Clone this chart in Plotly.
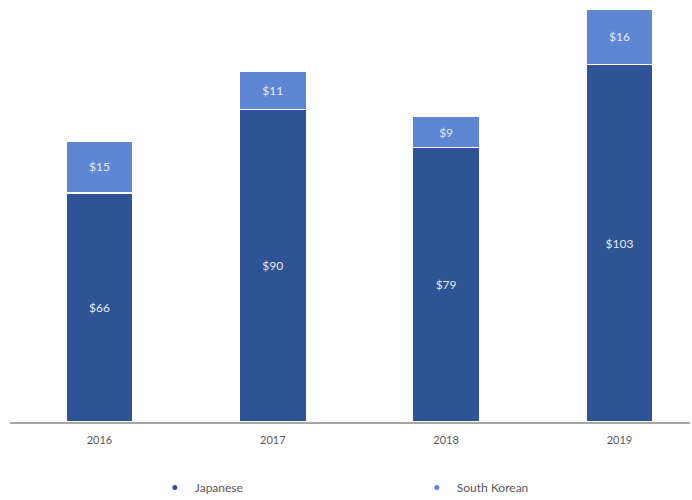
import plotly.graph_objects as go

years = ["2016", "2017", "2018", "2019"]
japanese = [66, 90, 79, 103]
south_korean = [15, 11, 9, 16]

dark_blue = "#2E5496"
light_blue = "#5E86D2"
font_family = "Lato, Roboto, sans-serif"

fig = go.Figure()

for name, vals, color in [("Japanese", japanese, dark_blue),
                          ("South Korean", south_korean, light_blue)]:
    fig.add_trace(go.Bar(
        x=years, y=vals, name=name,
        marker=dict(color=color, line=dict(color="white", width=1.2)),
        text=[f"${v}" for v in vals],
        textposition="inside", insidetextanchor="middle",
        textfont=dict(color="#E4E9F2", size=12, family=font_family),
        showlegend=False,
    ))
    # legend entry drawn as a small dot
    fig.add_trace(go.Scatter(
        x=[None], y=[None], mode="markers", name=name,
        marker=dict(color=color, size=5, symbol="circle"),
        showlegend=True,
    ))

fig.update_layout(
    barmode="stack",
    bargap=0.613,
    width=692, height=500,
    margin=dict(l=10, r=2, t=0, b=78, autoexpand=False),
    plot_bgcolor="white", paper_bgcolor="white",
    font=dict(family=font_family, color="#595959", size=11),
    xaxis=dict(
        type="category",
        range=[-0.516, 3.407],
        showline=True, linecolor="#A6A6A6", linewidth=1.5,
        ticks="", showgrid=False, zeroline=False,
        ticklabelstandoff=7,
        tickfont=dict(size=11, color="#595959"),
    ),
    yaxis=dict(
        range=[0, 121.6], visible=False, showgrid=False, zeroline=False,
    ),
    legend=dict(
        orientation="h", traceorder="normal",
        x=0.213, xanchor="left", y=-0.155, yanchor="middle",
        entrywidth=217, entrywidthmode="pixels",
        font=dict(size=12, color="#595959"),
        itemwidth=30,
    ),
)

fig.write_html("out.html")
